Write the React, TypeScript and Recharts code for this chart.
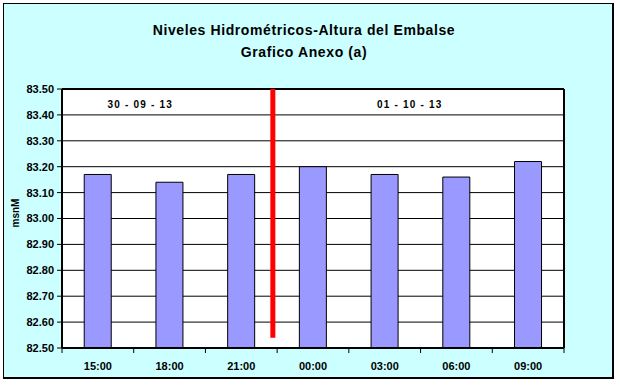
import React from 'react';
import { ComposedChart, Bar, XAxis, YAxis, CartesianGrid, ReferenceLine, ReferenceDot } from 'recharts';

const TITLE_LINES = ['Niveles Hidrométricos-Altura del Embalse', 'Grafico Anexo (a)'];
const Y_LABEL = 'msnM';
const HOURS = ['15:00', '18:00', '21:00', '00:00', '03:00', '06:00', '09:00'];
const LEVELS = [83.17, 83.14, 83.17, 83.2, 83.17, 83.16, 83.22];
const Y_TICKS = [82.5, 82.6, 82.7, 82.8, 82.9, 83.0, 83.1, 83.2, 83.3, 83.4, 83.5];
const Y_DOMAIN: [number, number] = [82.5, 83.5];
const SLOT_DOMAIN: [number, number] = [0, 7];
const DATE_LABELS = ['30 - 09 - 13', '01 - 10 - 13'];
const DATE_LABEL_POS = [1.09, 4.85];
const DATE_LABEL_Y = 83.44;
const DAY_BREAK_X = 2.94;
const DAY_BREAK_Y: [number, number] = [82.54, 83.5];

const data = HOURS.map((h, i) => ({ hour: h, slot: i + 0.5, level: LEVELS[i] }));

const FONT = '"Liberation Sans", Arial, sans-serif';

const XTick = (props: any) => {
  const { x, y, payload, index, visibleTicksCount } = props;
  const off = payload && typeof payload.offset === 'number' ? payload.offset : 0;
  return (
    <g>
      <line x1={x - off} y1={y} x2={x - off} y2={y + 5} stroke="#000" strokeWidth={1} />
      {index === visibleTicksCount - 1 && (
        <line x1={x + off} y1={y} x2={x + off} y2={y + 5} stroke="#000" strokeWidth={1} />
      )}
      <text x={x} y={y + 22} textAnchor="middle" fontSize={11} fontWeight="bold" fill="#000" fontFamily={FONT}>
        {payload.value}
      </text>
    </g>
  );
};

export default function App() {
  return (
    <div style={{ position: 'absolute', left: 0, top: 0, width: 620, height: 385, fontFamily: FONT }}>
      <div
        style={{
          position: 'absolute',
          left: 3,
          top: 3,
          width: 608,
          height: 373,
          background: '#CCFFFF',
          borderTop: '1px solid #000',
          borderLeft: '1px solid #000',
          borderRight: '2px solid #000',
          borderBottom: '2px solid #000',
        }}
      />
      {TITLE_LINES.map((t, i) => (
        <div
          key={t}
          style={{
            position: 'absolute',
            left: 0,
            width: 608,
            top: 19 + i * 22,
            lineHeight: '22px',
            textAlign: 'center',
            fontWeight: 'bold',
            fontSize: 14,
            letterSpacing: 0.6,
            color: '#000',
          }}
        >
          {t}
        </div>
      ))}
      <div
        style={{
          position: 'absolute',
          left: 15,
          top: 213,
          transform: 'translate(-50%, -50%) rotate(-90deg)',
          fontWeight: 'bold',
          fontSize: 10,
          color: '#000',
          whiteSpace: 'nowrap',
        }}
      >
        {Y_LABEL}
      </div>
      <div style={{ position: 'absolute', left: 0, top: 0 }}>
        <ComposedChart
          width={620}
          height={385}
          data={data}
          margin={{ top: 89, right: 56, bottom: 0, left: 0 }}
          barCategoryGap="31%"
          style={{ fontFamily: FONT }}
        >
          <CartesianGrid horizontal vertical={false} stroke="#000" strokeWidth={1} fill="#FFFFFF" fillOpacity={1} />
          <XAxis
            dataKey="hour"
            height={37}
            tickLine={false}
            tickSize={0}
            tickMargin={0}
            axisLine={{ stroke: '#000', strokeWidth: 2 }}
            tick={<XTick />}
            interval={0}
          />
          <XAxis xAxisId="n" dataKey="slot" type="number" domain={SLOT_DOMAIN} allowDataOverflow hide />
          <YAxis
            width={62}
            domain={Y_DOMAIN}
            ticks={Y_TICKS}
            interval={0}
            tickFormatter={(v: number) => v.toFixed(2)}
            axisLine={{ stroke: '#000', strokeWidth: 2 }}
            tickLine={{ stroke: '#000' }}
            tickSize={5}
            tickMargin={3}
            tick={{ fontSize: 11, fontWeight: 'bold', fill: '#000', fontFamily: FONT }}
            allowDataOverflow
          />
          <Bar dataKey="level" fill="#9999FF" stroke="#000" strokeWidth={1} isAnimationActive={false} />
          <ReferenceLine y={Y_DOMAIN[1]} stroke="#000" strokeWidth={2} />
          <ReferenceLine xAxisId="n" x={SLOT_DOMAIN[1]} stroke="#000" strokeWidth={2} />
          <ReferenceLine
            xAxisId="n"
            segment={[
              { x: DAY_BREAK_X, y: DAY_BREAK_Y[0] },
              { x: DAY_BREAK_X, y: DAY_BREAK_Y[1] },
            ]}
            stroke="#FF0000"
            strokeWidth={5}
          />
          {DATE_LABELS.map((t, i) => (
            <ReferenceDot
              key={t}
              xAxisId="n"
              x={DATE_LABEL_POS[i]}
              y={DATE_LABEL_Y}
              r={0}
              fill="none"
              stroke="none"
              label={{
                value: t,
                position: 'center',
                fontSize: 10,
                fontWeight: 'bold',
                fill: '#000',
                letterSpacing: 1.2,
                fontFamily: FONT,
              }}
            />
          ))}
        </ComposedChart>
      </div>
    </div>
  );
}
